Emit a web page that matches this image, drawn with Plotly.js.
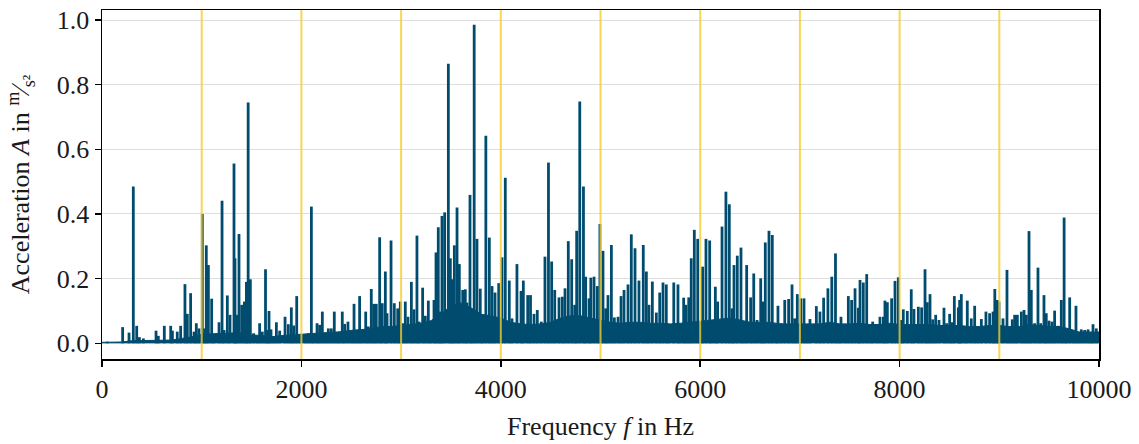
<!DOCTYPE html>
<html>
<head>
<meta charset="utf-8">
<script src="https://cdn.plot.ly/plotly-3.0.1.min.js"></script>
<style>
  html, body { margin: 0; padding: 0; background: #ffffff; }
  #chart { width: 1139px; height: 444px; }
</style>
</head>
<body>
<div id="chart"></div>
<script>
// Peak (line) components of the spectrum: frequency in Hz and acceleration amplitude in m/s^2
const peakFreqHz = [
  53, 207, 271, 314, 348, 375, 415, 542, 565, 625, 689, 706, 755, 789, 832, 856, 889, 923, 946, 973,
  1006, 1030, 1046, 1067, 1100, 1123, 1174, 1204, 1224, 1257, 1284, 1324, 1334, 1351, 1374, 1401, 1428, 1448, 1466, 1488,
  1521, 1555, 1581, 1608, 1640, 1658, 1675, 1695, 1722, 1749, 1782, 1836, 1869, 1899, 1923, 1953, 1983,
  2036, 2070, 2100, 2123, 2157, 2183, 2210, 2240, 2270, 2300, 2330, 2357, 2380, 2410, 2434, 2467, 2500,
  2528, 2558, 2584, 2611, 2645, 2671, 2701, 2725, 2751, 2785, 2811, 2842, 2859, 2899, 2932, 2966, 2992,
  3016, 3042, 3069, 3103, 3129, 3159, 3180, 3216, 3243, 3273, 3297, 3330, 3350, 3373, 3394, 3410, 3437, 3474, 3494,
  3514, 3534, 3561, 3584, 3618, 3644, 3661, 3691, 3711, 3733, 3761, 3794, 3818, 3850, 3885, 3912, 3942, 3979,
  4012, 4045, 4085, 4112, 4162, 4203, 4226, 4270, 4298, 4333, 4366, 4406, 4443, 4478, 4510, 4541, 4584, 4617, 4644,
  4677, 4711, 4741, 4761, 4792, 4829, 4851, 4885, 4903, 4935, 4968, 4994,
  5025, 5052, 5075, 5109, 5139, 5176, 5206, 5236, 5276, 5309, 5346, 5386, 5429, 5460, 5486, 5520, 5560, 5594, 5627,
  5660, 5687, 5735, 5777, 5800, 5834, 5857, 5885, 5910, 5941, 5975,
  6001, 6025, 6058, 6095, 6118, 6152, 6175, 6219, 6258, 6292, 6319, 6339, 6372, 6409, 6436, 6466, 6506, 6537, 6570,
  6607, 6627, 6653, 6690, 6723, 6760, 6780, 6813, 6848, 6887, 6921, 6947, 6974,
  7008, 7041, 7071, 7101, 7165, 7201, 7238, 7281, 7320, 7357, 7385, 7412, 7452, 7486, 7519, 7553, 7586, 7603, 7636,
  7670, 7703, 7730, 7770, 7803, 7837, 7853, 7877, 7920, 7954, 7987,
  8014, 8037, 8077, 8117, 8144, 8188, 8221, 8255, 8278, 8305, 8332, 8362, 8395, 8445, 8472, 8502, 8522, 8549, 8589,
  8602, 8619, 8653, 8679, 8719, 8753, 8786, 8820, 8866, 8903, 8937, 8955, 8980, 8997,
  9037, 9077, 9104, 9130, 9154, 9181, 9221, 9248, 9271, 9298, 9321, 9355, 9388, 9415, 9448, 9471, 9498, 9528, 9555,
  9589, 9622, 9650, 9672, 9706, 9739, 9769, 9796, 9822, 9856, 9890, 9917, 9940, 9973
];
const peakAmp = [
  0.005, 0.05, 0.033, 0.485, 0.054, 0.019, 0.015, 0.039, 0.023, 0.054, 0.054, 0.039, 0.036, 0.054, 0.183, 0.091, 0.155, 0.036, 0.062, 0.046,
  0.40, 0.046, 0.303, 0.242, 0.138, 0.02, 0.065, 0.441, 0.041, 0.148, 0.088, 0.556, 0.263, 0.088, 0.338, 0.119, 0.129, 0.19, 0.745, 0.198,
  0.031, 0.015, 0.062, 0.036, 0.229, 0.041, 0.10, 0.043, 0.021, 0.065, 0.039, 0.082, 0.059, 0.111, 0.055, 0.146, 0.026,
  0.026, 0.031, 0.423, 0.026, 0.062, 0.057, 0.098, 0.031, 0.046, 0.046, 0.098, 0.031, 0.026, 0.098, 0.06, 0.067, 0.026,
  0.122, 0.039, 0.146, 0.031, 0.098, 0.052, 0.168, 0.122, 0.122, 0.328, 0.124, 0.222, 0.093, 0.318, 0.124, 0.108, 0.129,
  0.062, 0.129, 0.082, 0.19, 0.105, 0.333, 0.067, 0.172, 0.085, 0.132, 0.052, 0.134, 0.281, 0.359, 0.098, 0.394, 0.405, 0.865, 0.263,
  0.198, 0.303, 0.42, 0.245, 0.165, 0.167, 0.126, 0.459, 0.093, 0.985, 0.323, 0.169, 0.064, 0.642, 0.327, 0.177, 0.157, 0.186,
  0.266, 0.512, 0.194, 0.077, 0.245, 0.162, 0.194, 0.149, 0.149, 0.091, 0.103, 0.067, 0.268, 0.559, 0.253, 0.165, 0.142, 0.144, 0.17,
  0.316, 0.26, 0.119, 0.348, 0.748, 0.485, 0.206, 0.139, 0.203, 0.206, 0.177, 0.369,
  0.286, 0.108, 0.149, 0.304, 0.08, 0.082, 0.146, 0.165, 0.182, 0.337, 0.294, 0.194, 0.304, 0.222, 0.119, 0.191, 0.095, 0.157, 0.188,
  0.182, 0.036, 0.188, 0.182, 0.052, 0.141, 0.119, 0.142, 0.263, 0.351, 0.323,
  0.052, 0.237, 0.323, 0.318, 0.062, 0.175, 0.129, 0.361, 0.469, 0.43, 0.108, 0.242, 0.271, 0.296, 0.067, 0.242, 0.142, 0.216, 0.072,
  0.201, 0.129, 0.312, 0.348, 0.335, 0.046, 0.116, 0.062, 0.134, 0.137, 0.182, 0.077, 0.152,
  0.139, 0.139, 0.043, 0.075, 0.115, 0.098, 0.141, 0.17, 0.206, 0.278, 0.041, 0.082, 0.052, 0.146, 0.134, 0.17, 0.11, 0.196, 0.188,
  0.214, 0.052, 0.067, 0.057, 0.082, 0.082, 0.132, 0.127, 0.139, 0.193, 0.204,
  0.072, 0.105, 0.10, 0.167, 0.106, 0.113, 0.111, 0.229, 0.127, 0.152, 0.074, 0.088, 0.072, 0.11, 0.062, 0.091, 0.065, 0.146, 0.111,
  0.134, 0.152, 0.041, 0.132, 0.077, 0.116, 0.041, 0.075, 0.098, 0.093, 0.098, 0.168, 0.134, 0.129,
  0.077, 0.227, 0.036, 0.074, 0.088, 0.088, 0.098, 0.103, 0.088, 0.347, 0.165, 0.062, 0.234, 0.062, 0.149, 0.093, 0.07, 0.067, 0.101,
  0.054, 0.134, 0.389, 0.046, 0.142, 0.034, 0.116, 0.029, 0.043, 0.041, 0.043, 0.034, 0.059, 0.046
];

// Broadband noise floor of the spectrum, read every 100 Hz
const floorFreqHz = [
  0, 100, 200, 300, 400, 500, 600, 700, 800, 900,
  1000, 1100, 1200, 1300, 1400, 1500, 1600, 1700, 1800, 1900,
  2000, 2100, 2200, 2300, 2400, 2500, 2600, 2700, 2800, 2900,
  3000, 3100, 3200, 3300, 3400, 3500, 3600, 3700, 3800, 3900,
  4000, 4100, 4200, 4300, 4400, 4500, 4600, 4700, 4800, 4900,
  5000, 5100, 5200, 5300, 5400, 5500, 5600, 5700, 5800, 5900,
  6000, 6100, 6200, 6300, 6400, 6500, 6600, 6700, 6800, 6900,
  7000, 7100, 7200, 7300, 7400, 7500, 7600, 7700, 7800, 7900,
  8000, 8100, 8200, 8300, 8400, 8500, 8600, 8700, 8800, 8900,
  9000, 9100, 9200, 9300, 9400, 9500, 9600, 9700, 9800, 9900, 10000
];
const floorAmp = [
  0.003, 0.003, 0.004, 0.008, 0.008, 0.008, 0.010, 0.010, 0.015, 0.020,
  0.028, 0.030, 0.030, 0.032, 0.032, 0.026, 0.024, 0.020, 0.024, 0.026,
  0.026, 0.028, 0.032, 0.032, 0.036, 0.040, 0.042, 0.045, 0.052, 0.052,
  0.055, 0.058, 0.062, 0.070, 0.090, 0.115, 0.125, 0.110, 0.090, 0.085,
  0.078, 0.065, 0.060, 0.058, 0.060, 0.065, 0.078, 0.085, 0.085, 0.078,
  0.072, 0.065, 0.062, 0.065, 0.065, 0.062, 0.062, 0.060, 0.062, 0.065,
  0.068, 0.072, 0.075, 0.078, 0.072, 0.065, 0.065, 0.065, 0.060, 0.060,
  0.060, 0.058, 0.060, 0.065, 0.060, 0.060, 0.062, 0.058, 0.058, 0.062,
  0.058, 0.058, 0.058, 0.058, 0.055, 0.055, 0.055, 0.052, 0.052, 0.055,
  0.055, 0.052, 0.052, 0.058, 0.055, 0.052, 0.052, 0.045, 0.035, 0.035, 0.035
];

// Highlighted frequencies (vertical marker lines)
const markerFreqHz = [1000, 2000, 3000, 4000, 5000, 6000, 7000, 8000, 9000];

const xTickVals = [0, 2000, 4000, 6000, 8000, 10000];
const yTickVals = [0.0, 0.2, 0.4, 0.6, 0.8, 1.0];

const lineColor = '#004c6f';
const markerColor = '#f7cd2c';
const fontFamily = '"Liberation Serif", "Times New Roman", serif';

// Build spike polyline from the peak arrays
const spikeX = [], spikeY = [];
peakFreqHz.forEach((f, i) => {
  spikeX.push(f, f, null);
  spikeY.push(0, peakAmp[i], null);
});

const traces = [
  {
    type: 'scatter', mode: 'lines',
    x: floorFreqHz, y: floorAmp,
    fill: 'tozeroy', fillcolor: lineColor,
    line: { color: lineColor, width: 1 },
    hoverinfo: 'skip', showlegend: false
  },
  {
    type: 'scatter', mode: 'lines',
    x: spikeX, y: spikeY,
    line: { color: lineColor, width: 2.8 },
    connectgaps: false,
    showlegend: false
  }
];

const shapes = markerFreqHz.map(f => ({
  type: 'line', xref: 'x', yref: 'paper',
  x0: f, x1: f, y0: 0, y1: 1,
  line: { color: markerColor, width: 2 },
  opacity: 0.8, layer: 'above'
}));

const layout = {
  width: 1139, height: 444,
  margin: { l: 102, r: 40, t: 10, b: 85 },
  paper_bgcolor: '#ffffff', plot_bgcolor: '#ffffff',
  font: { family: fontFamily, size: 26, color: '#1a1a1a' },
  showlegend: false,
  shapes: shapes,
  xaxis: {
    range: [0, 10000],
    tickvals: xTickVals,
    ticktext: xTickVals.map(String),
    ticks: 'outside', ticklen: 6, tickwidth: 1.5, tickcolor: '#000',
    showline: true, linecolor: '#000', linewidth: 1.5, mirror: true,
    showgrid: false, zeroline: false,
    tickfont: { family: fontFamily, size: 26, color: '#1a1a1a' },
    title: { text: 'Frequency <i>f</i> in Hz', font: { family: fontFamily, size: 26, color: '#1a1a1a' }, standoff: 14 },
    automargin: false
  },
  yaxis: {
    range: [-0.0486, 1.031],
    tickvals: yTickVals,
    ticktext: yTickVals.map(v => v.toFixed(1)),
    ticks: 'outside', ticklen: 6, tickwidth: 1.5, tickcolor: '#000',
    showline: true, linecolor: '#000', linewidth: 1.5, mirror: true,
    showgrid: true, gridcolor: '#dedede', gridwidth: 1,
    zeroline: false,
    tickfont: { family: fontFamily, size: 26, color: '#1a1a1a' },
    title: { text: 'Acceleration <i>A</i> in <sup>m</sup>⁄<sub>s²</sub>', font: { family: fontFamily, size: 26, color: '#1a1a1a' }, standoff: 19 },
    automargin: false
  }
};

Plotly.newPlot('chart', traces, layout, { displayModeBar: false, staticPlot: true });
</script>
</body>
</html>
